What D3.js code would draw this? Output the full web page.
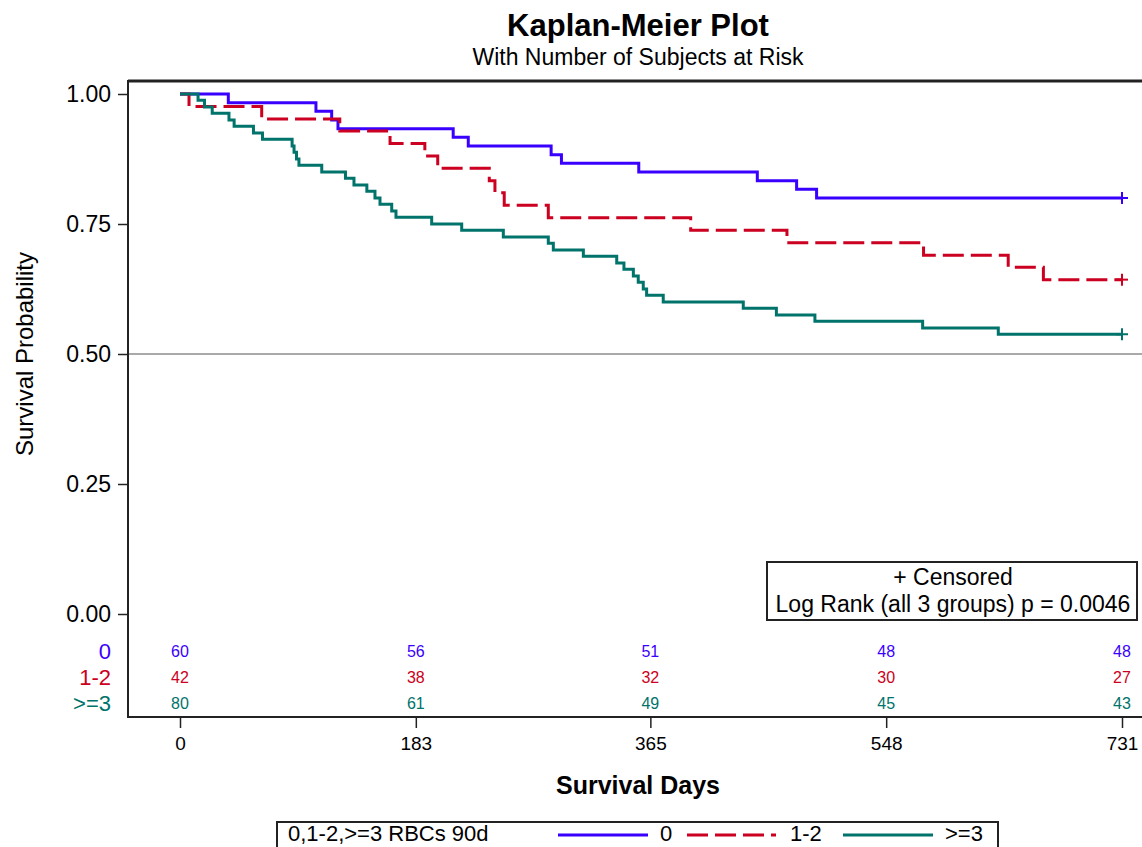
<!DOCTYPE html>
<html>
<head>
<meta charset="utf-8">
<script src="https://cdn.jsdelivr.net/npm/d3@7"></script>
<style>
  body { margin: 0; background: #fff; }
  svg { display: block; font-family: "Liberation Sans", Arial, sans-serif; }
</style>
</head>
<body>
<svg id="chart" width="1142" height="847"></svg>
<script>
// Groups and colours
const groups = ["0", "1-2", ">=3"];
const groupColors = ["#3a00ff", "#cc0020", "#00736b"];

// Event (death) days and survival after each event
const timesG0 = [37.5, 105.5, 117.7, 122.6, 212, 223.7, 288, 296, 356, 448, 478.5, 494];
const survG0 = [0.983, 0.967, 0.950, 0.933, 0.917, 0.900, 0.883, 0.867, 0.850, 0.833, 0.817, 0.800];

const timesG1 = [7, 63.4, 124, 163, 190, 200, 240, 244.4, 251.6, 285.8, 396.3, 471, 577, 642.7, 670];
const survG1 = [0.976, 0.952, 0.929, 0.905, 0.881, 0.857, 0.833, 0.810, 0.786, 0.762, 0.738, 0.714, 0.690, 0.667, 0.643];

const timesG2 = [14, 19, 25, 38, 42, 57, 64, 87, 88.5, 90.4, 92.3, 110, 128.4, 135, 145, 151.3, 155.2, 164.3, 167.6,
  195.3, 218.6, 250.9, 285.8, 289.7, 313, 338.9, 344.5, 351.8, 355.6, 359.5, 362.1, 375, 437.1, 462.8, 492.7, 576.3, 635];
const survG2 = [0.988, 0.975, 0.963, 0.950, 0.938, 0.925, 0.913, 0.900, 0.888, 0.875, 0.863, 0.850, 0.838, 0.825, 0.813,
  0.800, 0.788, 0.775, 0.763, 0.750, 0.738, 0.725, 0.713, 0.700, 0.688, 0.675, 0.663, 0.650, 0.638, 0.625, 0.613, 0.600,
  0.588, 0.575, 0.563, 0.550, 0.538];

// Censoring day (end of follow-up)
const censorDays = [731, 731, 731];

// Number at risk table
const riskTicks = [0, 183, 365, 548, 731];
const riskG0 = [60, 56, 51, 48, 48];
const riskG1 = [42, 38, 32, 30, 27];
const riskG2 = [80, 61, 49, 45, 43];

const yTicks = [0, 0.25, 0.5, 0.75, 1];

const svg = d3.select("#chart");

const x = d3.scaleLinear().domain([0, 731]).range([180, 1122]);
const y = d3.scaleLinear().domain([0, 1]).range([614, 94]);

const frame = { left: 128, top: 81, right: 1150, bottom: 717 };

// titles
svg.append("text")
    .attr("x", 638).attr("y", 36)
    .attr("text-anchor", "middle")
    .style("font-size", "31px").style("font-weight", "bold")
    .text("Kaplan-Meier Plot");
svg.append("text")
    .attr("x", 638).attr("y", 65)
    .attr("text-anchor", "middle")
    .style("font-size", "23px")
    .text("With Number of Subjects at Risk");

// reference line at 0.5
svg.append("line")
    .attr("x1", frame.left).attr("x2", frame.right)
    .attr("y1", y(0.5)).attr("y2", y(0.5))
    .attr("stroke", "#8c8c8c").attr("stroke-width", 1.5);

// frame
svg.append("rect")
    .attr("x", frame.left).attr("y", frame.top)
    .attr("width", frame.right - frame.left)
    .attr("height", frame.bottom - frame.top)
    .attr("fill", "none")
    .attr("stroke", "#222").attr("stroke-width", 2);
svg.append("line")
    .attr("x1", frame.left).attr("x2", frame.right)
    .attr("y1", frame.top).attr("y2", frame.top)
    .attr("stroke", "#222").attr("stroke-width", 3);

// y axis
const yAxis = d3.axisLeft(y)
    .tickValues(yTicks)
    .tickFormat(d3.format(".2f"))
    .tickSize(10)
    .tickPadding(7);
const gy = svg.append("g")
    .attr("transform", `translate(${frame.left},0)`)
    .call(yAxis);
gy.select(".domain").remove();
gy.selectAll("line").attr("stroke", "#222").attr("stroke-width", 1.5);
gy.selectAll("text").style("font-size", "23px").attr("fill", "#000")
    .style("font-family", "'Liberation Sans', Arial, sans-serif");

svg.append("text")
    .attr("transform", `translate(33,${y(0.5)}) rotate(-90)`)
    .attr("text-anchor", "middle")
    .style("font-size", "24px")
    .text("Survival Probability");

// x axis at bottom of frame
const xAxis = d3.axisBottom(x)
    .tickValues(riskTicks)
    .tickFormat(d3.format("d"))
    .tickSize(11)
    .tickPadding(9);
const gx = svg.append("g")
    .attr("transform", `translate(0,${frame.bottom})`)
    .call(xAxis);
gx.select(".domain").remove();
gx.selectAll("line").attr("stroke", "#222").attr("stroke-width", 1.5);
gx.selectAll("text").style("font-size", "19px").attr("fill", "#000")
    .style("font-family", "'Liberation Sans', Arial, sans-serif");

svg.append("text")
    .attr("x", 638).attr("y", 794)
    .attr("text-anchor", "middle")
    .style("font-size", "25px").style("font-weight", "bold")
    .text("Survival Days");

// curves
const curveData = [
  { times: timesG0, surv: survG0 },
  { times: timesG1, surv: survG1 },
  { times: timesG2, surv: survG2 }
];

const line = d3.line()
    .x(d => x(d[0]))
    .y(d => y(d[1]))
    .curve(d3.curveStepAfter);

const curves = curveData.map((c, i) => {
  const pts = [[0, 1]];
  c.times.forEach((t, j) => pts.push([t, c.surv[j]]));
  pts.push([censorDays[i], c.surv[c.surv.length - 1]]);
  return pts;
});

const dashes = [null, "21,7", null];

svg.append("g")
  .selectAll("path")
  .data(curves)
  .join("path")
    .attr("d", line)
    .attr("fill", "none")
    .attr("stroke", (d, i) => groupColors[i])
    .attr("stroke-width", 3)
    .attr("stroke-dasharray", (d, i) => dashes[i]);

// censor marks
const censorPts = curves.map(pts => pts[pts.length - 1]);
const marks = svg.append("g")
  .selectAll("g")
  .data(censorPts)
  .join("g")
    .attr("transform", d => `translate(${x(d[0])},${y(d[1])})`)
    .attr("stroke", (d, i) => groupColors[i])
    .attr("stroke-width", 2);
marks.append("line").attr("x1", -6).attr("x2", 6);
marks.append("line").attr("y1", -6).attr("y2", 6);

// at-risk table
const riskRows = [riskG0, riskG1, riskG2];
const rowY = [651, 677, 703];

riskRows.forEach((row, i) => {
  svg.append("text")
      .attr("x", 111).attr("y", rowY[i])
      .attr("dy", "0.35em")
      .attr("text-anchor", "end")
      .attr("fill", groupColors[i])
      .style("font-size", "22px")
      .text(groups[i]);
  svg.append("g")
    .selectAll("text")
    .data(row)
    .join("text")
      .attr("x", (d, j) => x(riskTicks[j]))
      .attr("y", rowY[i])
      .attr("dy", "0.35em")
      .attr("text-anchor", "middle")
      .attr("fill", groupColors[i])
      .style("font-size", "16px")
      .text(d => d);
});

// inset box
const inset = svg.append("g");
inset.append("rect")
    .attr("x", 767).attr("y", 562)
    .attr("width", 370).attr("height", 58)
    .attr("fill", "#fff")
    .attr("stroke", "#222").attr("stroke-width", 2);
inset.append("text")
    .attr("x", 953).attr("y", 585)
    .attr("text-anchor", "middle")
    .style("font-size", "23px")
    .text("+ Censored");
inset.append("text")
    .attr("x", 953).attr("y", 612)
    .attr("text-anchor", "middle")
    .style("font-size", "23px")
    .text("Log Rank (all 3 groups) p = 0.0046");

// legend at the bottom
const legend = svg.append("g");
legend.append("rect")
    .attr("x", 277).attr("y", 822)
    .attr("width", 721).attr("height", 50)
    .attr("fill", "#fff")
    .attr("stroke", "#222").attr("stroke-width", 2);
legend.append("text")
    .attr("x", 288).attr("y", 841)
    .style("font-size", "22px")
    .text("0,1-2,>=3 RBCs 90d");

const legendItems = [
  { x1: 558, x2: 648, tx: 660 },
  { x1: 687, x2: 776, tx: 790 },
  { x1: 843, x2: 933, tx: 945 }
];
legendItems.forEach((it, i) => {
  legend.append("line")
      .attr("x1", it.x1).attr("x2", it.x2)
      .attr("y1", 835).attr("y2", 835)
      .attr("stroke", groupColors[i])
      .attr("stroke-width", 3)
      .attr("stroke-dasharray", dashes[i]);
  legend.append("text")
      .attr("x", it.tx).attr("y", 841)
      .style("font-size", "22px")
      .text(groups[i]);
});
</script>
</body>
</html>
